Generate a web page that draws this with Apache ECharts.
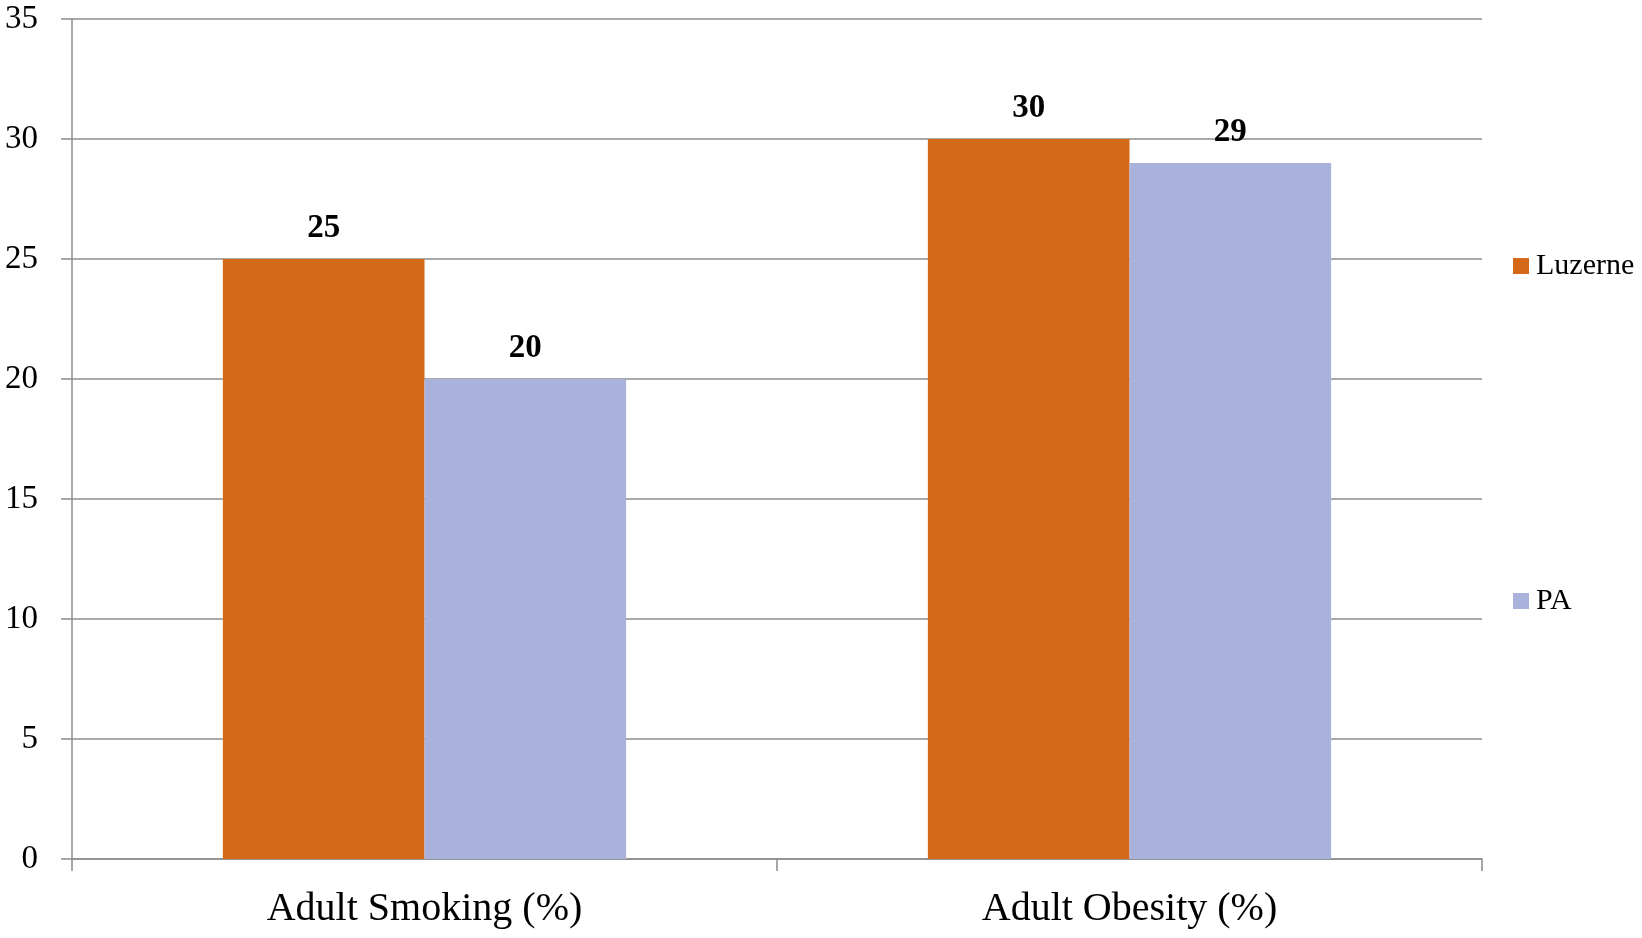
<!DOCTYPE html>
<html>
<head>
<meta charset="utf-8">
<script src="https://cdn.jsdelivr.net/npm/echarts@6/dist/echarts.min.js"></script>
<style>
html,body{margin:0;padding:0;background:#fff;}
#chart{width:1642px;height:938px;}
</style>
</head>
<body>
<div id="chart"></div>
<script>
const categories = ['Adult Smoking (%)', 'Adult Obesity (%)'];
const luzerne = [25, 30];
const pa = [20, 29];
const seriesNames = ['Luzerne', 'PA'];
const yTicks = { min: 0, max: 35, interval: 5 };

const FONT = '"Liberation Serif", "DejaVu Serif", serif';
const GRIDC = '#8c8c8c';
const chart = echarts.init(document.getElementById('chart'));
chart.setOption({
  animation: false,
  backgroundColor: '#ffffff',
  grid: { left: 72, right: 160, top: 19, bottom: 79, containLabel: false },
  legend: [
    { data: [seriesNames[0]], orient: 'vertical', left: 1513, top: 251, padding: 0,
      itemWidth: 16, itemHeight: 16, itemGap: 7, icon: 'rect',
      textStyle: { fontFamily: FONT, fontSize: 30, color: '#000', lineHeight: 30, padding: [0,0,0,2] } },
    { data: [seriesNames[1]], orient: 'vertical', left: 1513, top: 586, padding: 0,
      itemWidth: 16, itemHeight: 16, itemGap: 7, icon: 'rect',
      textStyle: { fontFamily: FONT, fontSize: 30, color: '#000', lineHeight: 30, padding: [0,0,0,2] } }
  ],
  xAxis: {
    type: 'category',
    data: categories,
    boundaryGap: true,
    axisLine: { show: true, lineStyle: { color: GRIDC, width: 1.5 } },
    axisTick: { show: true, length: 12, inside: false, alignWithLabel: false, lineStyle: { color: GRIDC, width: 1.5 } },
    axisLabel: { fontFamily: FONT, fontSize: 40, color: '#000', margin: 30, lineHeight: 40 },
    splitLine: { show: false }
  },
  yAxis: {
    type: 'value',
    min: yTicks.min, max: yTicks.max, interval: yTicks.interval,
    axisLine: { show: true, lineStyle: { color: GRIDC, width: 1.5 } },
    axisTick: { show: true, length: 11, inside: false, lineStyle: { color: GRIDC, width: 1.5 } },
    axisLabel: { fontFamily: FONT, fontSize: 33, color: '#000', margin: 34 },
    splitLine: { show: true, lineStyle: { color: GRIDC, width: 1.5 } }
  },
  series: [
    { name: seriesNames[0], type: 'bar', data: luzerne, barGap: '0%', barCategoryGap: '42.8%',
      itemStyle: { color: '#D4691A' },
      label: { show: true, position: 'top', distance: 14, fontFamily: FONT, fontSize: 33, fontWeight: 'bold', color: '#000', lineHeight: 33 } },
    { name: seriesNames[1], type: 'bar', data: pa, barGap: '0%', barCategoryGap: '42.8%',
      itemStyle: { color: '#AAB2DC' },
      label: { show: true, position: 'top', distance: 14, fontFamily: FONT, fontSize: 33, fontWeight: 'bold', color: '#000', lineHeight: 33 } }
  ]
});
</script>
</body>
</html>
